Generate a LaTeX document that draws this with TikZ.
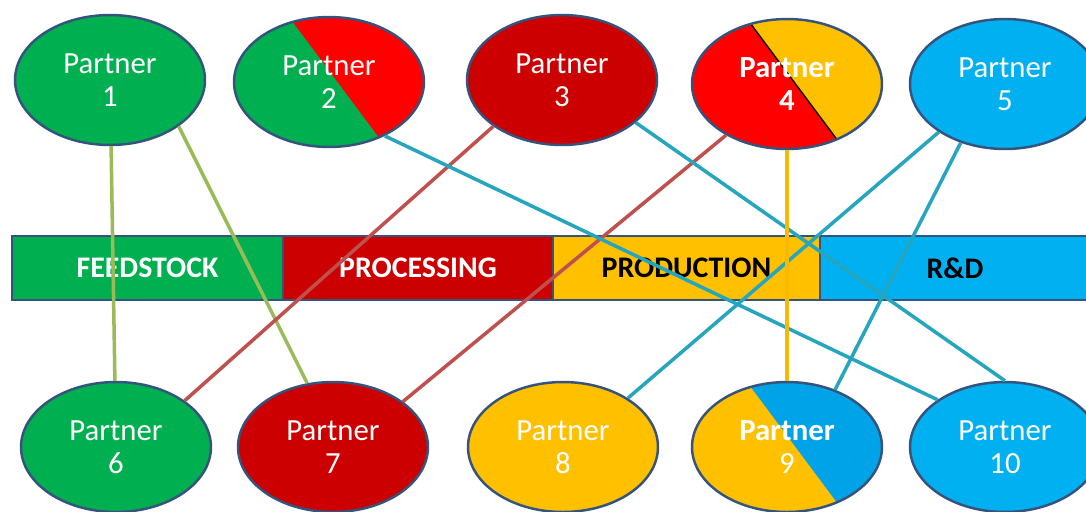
\documentclass[tikz,border=0pt]{standalone}
\usepackage{fontspec}
\setmainfont{Carlito}
\usetikzlibrary{shapes.geometric,calc}
\definecolor{pgreen}{HTML}{00B050}
\definecolor{pdarkred}{HTML}{CC0000}
\definecolor{pred}{HTML}{FF0000}
\definecolor{pyellow}{HTML}{FFC000}
\definecolor{pblue}{HTML}{00B0F0}
\definecolor{pdeepblue}{HTML}{00A2E8}
\definecolor{pborder}{HTML}{34537D}
\definecolor{lgreen}{HTML}{9BBB59}
\definecolor{lred}{HTML}{C0504D}
\definecolor{lteal}{HTML}{25A6BE}
\definecolor{lyellow}{HTML}{F8BA00}
\tikzset{halves/.style n args={3}{path picture={
        \fill[#1] (path picture bounding box.south west) rectangle (path picture bounding box.north east);
        \fill[#2] ($(path picture bounding box.north west)!0.29!(path picture bounding box.north east)$) -- (path picture bounding box.north east) -- (path picture bounding box.south east) -- ($(path picture bounding box.south west)!0.8!(path picture bounding box.south east)$) -- cycle;
        \draw[#3] ($(path picture bounding box.north west)!0.29!(path picture bounding box.north east)$) -- ($(path picture bounding box.south west)!0.8!(path picture bounding box.south east)$);}}}

\begin{document}
\begin{tikzpicture}[x=0.02cm,y=-0.02cm]
        \tikzstyle{every node}=[font=\fontsize{17.5}{19}\selectfont]
        \tikzstyle{partner}=[ellipse,draw=pborder,line width=1.4pt,minimum width=3.8cm,minimum height=2.6cm,inner sep=0pt,text=white,align=center]
        \tikzstyle{stage}=[rectangle,draw=pborder,line width=1pt,minimum width=5.4cm,minimum height=1.28cm,inner sep=0pt,outer sep=0pt,font=\fontsize{17}{18}\selectfont\bfseries]
        \tikzstyle{link}=[line width=2pt]
        \useasboundingbox (0,0) rectangle (1086,511);
        \node[stage,fill=pgreen,text=white,minimum width=5.42cm] (feedstock) at (147.5,268) {FEEDSTOCK};
        \node[stage,fill=pdarkred,text=white] (processing) at (418,268) {PROCESSING};
        \node[stage,fill=pyellow,text=black,minimum width=5.34cm] (production) at (686.5,268) {PRODUCTION};
        \node[stage,fill=pblue,text=black] (rnd) at (955,268) {R\&D};
        \node[partner,fill=pgreen] (p1) at (110,80) {Partner\\1};
        \node[partner,halves={pgreen}{pred}{draw=none}] (p2) at (329,82) {Partner\\2};
        \node[partner,fill=pdarkred] (p3) at (562,80) {Partner\\3};
        \node[partner,halves={pred}{pyellow}{black,line width=0.8pt},font=\fontsize{17.5}{19}\selectfont\bfseries] (p4) at (787,84) {Partner\\4};
        \node[partner,fill=pblue] (p5) at (1005,84) {Partner\\5};
        \node[partner,fill=pgreen] (p6) at (116,447) {Partner\\6};
        \node[partner,fill=pdarkred] (p7) at (333,447) {Partner\\7};
        \node[partner,fill=pyellow] (p8) at (563,447) {Partner\\8};
        \node[partner,halves={pyellow}{pdeepblue}{draw=none}] (p9) at (787,447) {\textbf{Partner}\\9};
        \node[partner,fill=pblue] (p10) at (1005,447) {Partner\\10};
        \draw[link,lgreen] (p1) -- (p6);
        \draw[link,lgreen] (p1.-34) -- (p7.112);
        \draw[link,lred] (p3.-146) -- (p6.34);
        \draw[link,lred] (p4.-140) -- (p7.33);
        \draw[link,lteal] (p2.-44) -- (p10.145);
        \draw[link,lteal] (p3.-30) -- (p10.90);
        \draw[link,lteal] (p5.216) -- (p8.37);
        \draw[link,lteal] (p5.233) -- (p9.50);
        \draw[link,lyellow] (p4) -- (p9);
\end{tikzpicture}
\end{document}
